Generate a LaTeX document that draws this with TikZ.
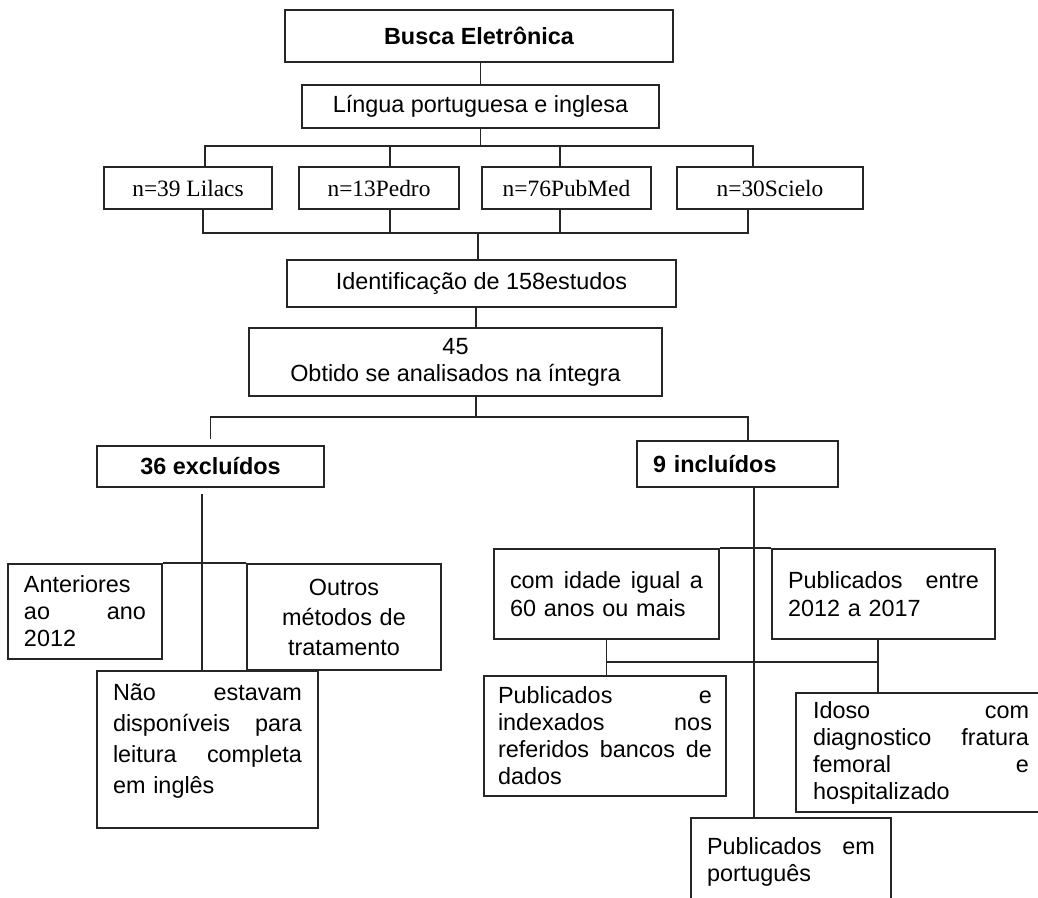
\documentclass[tikz,border=0pt]{standalone}
\usepackage{fontspec}
\setmainfont{Liberation Sans}
\newfontfamily\serifnum{Liberation Serif}
\newcommand\fsz{\fontsize{11.7pt}{13.5pt}\selectfont}
\tikzset{
  box/.style    ={draw=black!85,line width=0.85pt,inner xsep=8pt,inner ysep=2pt,
                  align=center,font=\fsz},
  headbox/.style={box,font=\fsz\bfseries},
  srcbox/.style ={box,font=\serifnum\fsz,minimum height=21pt},
  parbox/.style ={box,align=left},
  link/.style   ={draw=black!85,line width=0.85pt}
}

\begin{document}
\begin{tikzpicture}[x=0.5pt,y=-0.5pt]
  \useasboundingbox (0,0) rectangle (1038,898);
  \clip (0,0) rectangle (1038,898);
  % search and sources
  \node[headbox,minimum width=194pt,minimum height=26pt] (busca) at (479,36) {Busca Eletrônica};
  \node[box,minimum width=178.5pt,minimum height=21.5pt] (lingua) at (480.5,106.5) {Língua portuguesa e inglesa};
  \node[srcbox,minimum width=84pt] (lilacs) at (188,188) {n=39 Lilacs};
  \node[srcbox,minimum width=80pt] (pedro) at (379,188) {n=13Pedro};
  \node[srcbox,minimum width=84.5pt] (pubmed) at (566.5,188) {n=76PubMed};
  \node[srcbox,minimum width=93pt] (scielo) at (770,188) {n=30Scielo};
  \node[box,minimum width=194.5pt,minimum height=23.5pt] (ident) at (481.5,283.5) {Identificação de 158estudos};
  \node[box,minimum width=206.5pt,minimum height=34pt] (n45) at (455.5,362) {45\\Obtido se analisados na íntegra};
  % split
  \node[headbox,minimum width=113.5pt,minimum height=20.5pt] (excl) at (210.5,466.5) {36 excluídos};
  \node[headbox,align=left,text width=84.5pt,minimum height=23pt] (incl) at (737.5,464) {9 incluídos};
  % excluded
  \node[parbox,text width=61pt,minimum height=47.5pt] (ant) at (85,611.5) {Anteriores\\ ao\hfill ano\\ 2012};
  \node[box,text width=81pt,minimum height=53pt,font=\fontsize{11.7pt}{15pt}\selectfont] (out) at (344,617)
    {Outros\\ métodos de\\ tratamento};
  \node[parbox,text width=94.5pt,minimum height=78.5pt,font=\fontsize{11.7pt}{15.5pt}\selectfont] (nao) at (207.5,749.5)
    {Não\hfill estavam\\ disponíveis\hfill para\\ leitura\hfill completa\\ em inglês\\[-5pt]\mbox{}};
  % included
  \node[parbox,text width=96.5pt,minimum height=45pt,font=\fontsize{11.7pt}{14pt}\selectfont] (cid) at (606.5,594)
    {com\hfill idade\hfill igual\hfill a\\ 60 anos ou mais};
  \node[parbox,text width=95.5pt,minimum height=45pt,font=\fontsize{11.7pt}{14pt}\selectfont] (pent) at (883.5,594)
    {Publicados\hfill entre\\ 2012 a 2017};
  \node[parbox,text width=107pt,inner xsep=7pt,minimum height=60pt] (pidx) at (605,736)
    {Publicados\hfill e\\ indexados\hfill nos\\ referidos\hfill bancos\hfill de\\ dados};
  \node[parbox,text width=108pt,inner xsep=8.5pt,minimum height=59.5pt] (idoso) at (921,752.5)
    {Idoso\hfill com\\ diagnostico\hfill fratura\\ femoral\hfill e\\ hospitalizado};
  \node[parbox,text width=84pt,minimum height=44pt,anchor=north] (pport) at (791,817)
    {Publicados\hfill em\\ português};

  % connectors, top part
  \coordinate (tbus) at (481,146);
  \coordinate (bbus) at (478,233);
  \coordinate (s1) at ([xshift=8.5pt]lilacs.north);
  \coordinate (s2) at ([xshift=5.5pt]pedro.north);
  \coordinate (s3) at ([xshift=-3.25pt]pubmed.north);
  \coordinate (s4) at ([xshift=-8.5pt]scielo.north);
  \coordinate (t1) at ([xshift=7.5pt]lilacs.south);
  \coordinate (t2) at ([xshift=5.5pt]pedro.south);
  \coordinate (t3) at ([xshift=-3.25pt]pubmed.south);
  \coordinate (t4) at ([xshift=-11pt]scielo.south);
  \draw[link] (lingua.north) -- (lingua.north |- busca.south);
  \draw[link] (lingua.south) -- (lingua.south |- tbus);
  \draw[link] (s1) |- (tbus) -| (s4);
  \draw[link] (s2) -- (s2 |- tbus); \draw[link] (s3) -- (s3 |- tbus);
  \draw[link] (t1) |- (bbus) -| (t4);
  \draw[link] (t2) -- (t2 |- bbus); \draw[link] (t3) -- (t3 |- bbus);
  \draw[link] (bbus) -- (bbus |- ident.north);
  \coordinate (i1) at ([xshift=-2.75pt]ident.south);
  \draw[link] (i1) -- (i1 |- n45.north);

  % connectors, split
  \coordinate (mbus) at (476,417);
  \coordinate (e1) at ([yshift=3pt]excl.north);
  \coordinate (e2) at ([xshift=5.25pt]incl.north);
  \draw[link] (n45.south -| mbus) -- (mbus);
  \draw[link] (e1) |- (mbus) -| (e2);

  % connectors, excluded
  \coordinate (x1) at ([xshift=-4.25pt,yshift=-3pt]excl.south);
  \draw[link] (x1) -- (x1 |- nao.north);
  \draw[link] (ant.north east) -- (out.north west);

  % connectors, included
  \coordinate (y1) at ([xshift=8.25pt]incl.south);
  \coordinate (rbus) at (606.5,662);
  \coordinate (p1) at ([xshift=-2.75pt]pent.south);
  \draw[link] (y1) -- (y1 |- pport.north);
  \draw[link] (cid.north east) -- (pent.north west);
  \draw[link] (cid.south) -- (cid.south |- pidx.north);
  \draw[link] (rbus) -- (rbus -| p1);
  \draw[link] (p1) -- (p1 |- idoso.north);
\end{tikzpicture}
\end{document}
